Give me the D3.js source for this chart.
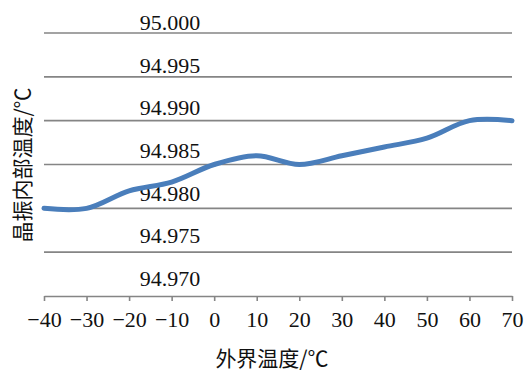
<!DOCTYPE html>
<html>
<head>
<meta charset="utf-8">
<script src="https://cdn.jsdelivr.net/npm/d3@7/dist/d3.min.js"></script>
<style>
  html, body { margin: 0; padding: 0; background: #fff; }
  svg { display: block; }
  text { fill: #111; }
</style>
</head>
<body>
<svg id="chart" width="527" height="372"></svg>
<script>
// Outside temperature (°C) and crystal oscillator internal temperature readings
const outsideTemp = [-40, -30, -20, -10, 0, 10, 20, 30, 40, 50, 60, 70];
const internalTemp = [94.980, 94.980, 94.982, 94.983, 94.985, 94.986, 94.985, 94.986, 94.987, 94.988, 94.990, 94.990];
const yTicks = [94.970, 94.975, 94.980, 94.985, 94.990, 94.995, 95.000];
const xTicks = [-40, -30, -20, -10, 0, 10, 20, 30, 40, 50, 60, 70];
const xTitle = "外界温度/℃";
const yTitle = "晶振内部温度/℃";

const svg = d3.select("#chart");
const plotLeft = 44, plotRight = 512, plotTop = 33, plotBottom = 296;
const serif = "'Liberation Serif', 'Times New Roman', 'Noto Sans CJK SC', serif";
const cjk = "'Noto Sans CJK SC', 'Liberation Serif', serif";

const x = d3.scaleLinear().domain([-40, 70]).range([plotLeft, plotRight]);
const y = d3.scaleLinear().domain([94.970, 95.000]).range([plotBottom, plotTop]);
// value labels sit in a band slightly inside the grid
const yLabel = d3.scaleLinear().domain([94.970, 95.000]).range([286, 30]);

// horizontal gridlines
svg.append("g")
  .selectAll("line")
  .data(yTicks.filter(v => v > 94.970))
  .join("line")
  .attr("x1", plotLeft).attr("x2", plotRight)
  .attr("y1", d => y(d)).attr("y2", d => y(d))
  .attr("stroke", "#858585").attr("stroke-width", 1.6);

// y value labels, placed over the plot
svg.append("g")
  .selectAll("text")
  .data(yTicks)
  .join("text")
  .attr("x", 170)
  .attr("y", d => yLabel(d))
  .attr("text-anchor", "middle")
  .style("font-family", serif)
  .style("font-size", "22px")
  .text(d => d3.format(".3f")(d));

// bottom axis
const xAxis = svg.append("g")
  .attr("transform", `translate(0,${plotBottom})`)
  .call(d3.axisBottom(x).tickValues(xTicks).tickSize(5).tickSizeOuter(0).tickPadding(10));
xAxis.select(".domain").attr("stroke", "#858585").attr("stroke-width", 1.6);
xAxis.selectAll(".tick line").attr("stroke", "#858585").attr("stroke-width", 1.6);
xAxis.selectAll(".tick text")
  .attr("fill", "#111")
  .style("font-family", serif)
  .style("font-size", "22px");

// data curve
const line = d3.line()
  .x((d, i) => x(outsideTemp[i]))
  .y(d => y(d))
  .curve(d3.curveCatmullRom.alpha(0.5));

svg.append("path")
  .datum(internalTemp)
  .attr("d", line)
  .attr("fill", "none")
  .attr("stroke", "#4a7ebb")
  .attr("stroke-width", 5)
  .attr("stroke-linecap", "round")
  .attr("stroke-linejoin", "round");

// axis titles
svg.append("text")
  .attr("x", 272).attr("y", 366)
  .attr("text-anchor", "middle")
  .style("font-family", cjk)
  .style("font-size", "21px")
  .text(xTitle);

svg.append("text")
  .attr("transform", "translate(30,165) rotate(-90)")
  .attr("text-anchor", "middle")
  .style("font-family", cjk)
  .style("font-size", "21px")
  .text(yTitle);
</script>
</body>
</html>
